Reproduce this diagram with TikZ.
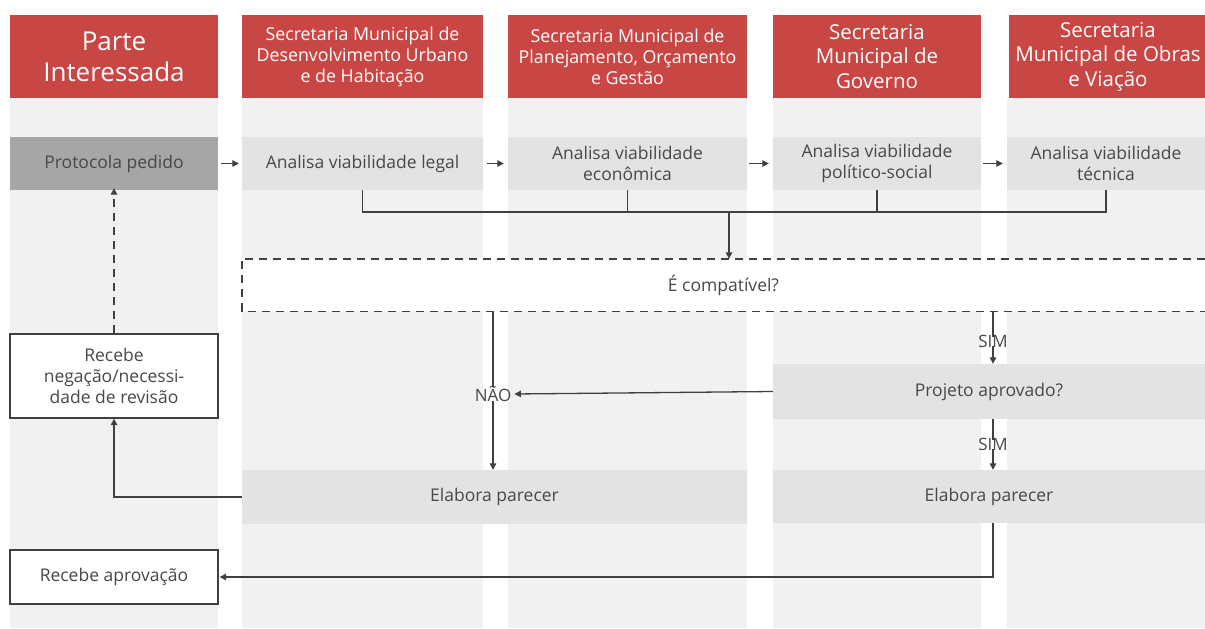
\documentclass[tikz,border=0pt]{standalone}
\usepackage{fontspec}
\setmainfont{Open Sans}
\usetikzlibrary{arrows.meta}
\definecolor{hdr}{RGB}{200,70,67}
\definecolor{lanebg}{RGB}{241,241,241}
\definecolor{boxg}{RGB}{227,227,227}
\definecolor{darkbox}{RGB}{166,166,166}
\definecolor{txt}{RGB}{72,72,72}
\definecolor{ln}{RGB}{64,64,64}
\begin{document}
\begin{tikzpicture}[x=1pt,y=-1pt,
  hdrbox/.style={fill=hdr, text=white, align=center, inner sep=0pt, font=\fontsize{17.8}{21}\selectfont},
  hdrbig/.style={hdrbox, font=\fontsize{20.5}{24.5}\selectfont},
  proc/.style={fill=boxg, text=txt, align=center, inner sep=0pt, font=\fontsize{17.5}{21}\selectfont},
  endbox/.style={fill=white, draw=ln, line width=1.3pt, text=txt, align=center, inner sep=0pt, font=\fontsize{17.5}{21}\selectfont},
  lbl/.style={text=txt, inner sep=1pt, font=\fontsize{17}{18}\selectfont},
  conn/.style={draw=ln, line width=1.3pt},
  arr/.style={conn, -{Triangle[length=6.5pt,width=6.5pt]}},
  dashline/.style={draw=ln, line width=1.4pt, dash pattern=on 8pt off 6pt}
]
\useasboundingbox (0,0) rectangle (1205,629);
\fill[white] (0,0) rectangle (1205,629);
% lane backgrounds
\fill[lanebg] (10,98) rectangle (218,628);
\fill[lanebg] (242,98) rectangle (483,628);
\fill[lanebg] (508,98) rectangle (747,628);
\fill[lanebg] (773,98) rectangle (981,628);
\fill[lanebg] (1007,98) rectangle (1205,628);
% headers
\node[hdrbox, font=\fontsize{26}{31}\selectfont, minimum width=208pt, minimum height=83pt] (H1) at (114,56.5) {Parte\\Interessada};
\node[hdrbox, minimum width=241pt, minimum height=83pt] (H2) at (362.5,56.5) {Secretaria Municipal de\\Desenvolvimento Urbano\\e de Habitação};
\node[hdrbox, minimum width=239pt, minimum height=83pt] (H3) at (627.5,56.5) {Secretaria Municipal de\\Planejamento, Orçamento\\e Gestão};
\node[hdrbig, minimum width=208pt, minimum height=83pt] (H4) at (877,56.5) {Secretaria\\Municipal de\\Governo};
\node[hdrbig, minimum width=198pt, minimum height=83pt] (H5) at (1108,56.5) {Secretaria\\Municipal de Obras\\e Viação};
% row 1
\node[proc, fill=darkbox, minimum width=208pt, minimum height=53pt] (P1) at (114,163.5) {Protocola pedido};
\node[proc, minimum width=241pt, minimum height=53pt] (A2) at (362.5,163.5) {Analisa viabilidade legal};
\node[proc, minimum width=239pt, minimum height=53pt] (A3) at (627.5,163.5) {Analisa viabilidade\\econômica};
\node[proc, minimum width=208pt, minimum height=53pt] (A4) at (877,163.5) {Analisa viabilidade\\político-social};
\node[proc, minimum width=198pt, minimum height=53pt] (A5) at (1106,163.5) {Analisa viabilidade\\técnica};
% decision
\node[fill=white, text=txt, inner sep=0pt, minimum width=963pt, minimum height=52pt, font=\fontsize{17.5}{20}\selectfont] (D) at (723.5,285) {É compatível?};
\draw[dashline] (D.north east) -- (D.north west) -- (D.south west) -- (D.south east);
% lower boxes
\node[proc, minimum width=432pt, minimum height=55pt] (PA) at (989,391.5) {Projeto aprovado?};
\node[proc, minimum width=505pt, minimum height=54pt] (EL) at (494.5,497) {Elabora parecer};
\node[proc, minimum width=432pt, minimum height=53pt] (ER) at (989,496.5) {Elabora parecer};
\node[endbox, minimum width=208pt, minimum height=84pt] (RN) at (114,376) {Recebe\\negação/necessi-\\dade de revisão};
\node[endbox, minimum width=208pt, minimum height=54pt] (RA) at (114,577) {Recebe aprovação};
% labels
\node[lbl] (NAO) at (493,394) {NÃO};
\node[lbl] (S1) at (993,341) {SIM};
\node[lbl] (S2) at (993,444) {SIM};
\coordinate (J) at (729,212);
% connectors row 1
\draw[arr] ([xshift=3pt]P1.east) -- ([xshift=-3pt]A2.west);
\draw[arr] ([xshift=4pt]A2.east) -- ([xshift=-4pt]A3.west);
\draw[arr] ([xshift=2pt]A3.east) -- ([xshift=-4pt]A4.west);
\draw[arr] ([xshift=2pt]A4.east) -- ([xshift=-4pt]A5.west);
% bracket
\draw[conn] (A2.south) |- (J) -| (A5.south);
\draw[conn] (A3.south) -- (A3.south |- J);
\draw[conn] (A4.south) -- (A4.south |- J);
\draw[arr] (J) -- (D.north -| J);
% no branch
\draw[conn] ([yshift=-1pt]D.south -| NAO) -- ([yshift=-2pt]NAO.north);
\draw[arr] ([yshift=2pt]NAO.south) -- (EL.north -| NAO);
\draw[arr] (PA.west) -- ([xshift=2pt]NAO.east);
% yes branch
\draw[conn] ([yshift=-1pt]D.south -| S1) -- ([yshift=-3pt]S1.north);
\draw[arr] ([yshift=2pt]S1.south) -- (PA.north -| S1);
\draw[conn] (PA.south -| S2) -- ([yshift=-3pt]S2.north);
\draw[arr] ([yshift=2pt]S2.south) -- (ER.north -| S2);
% returns
\draw[arr] (EL.west) -| (RN.south);
\draw[arr, dash pattern=on 8pt off 6pt] (RN.north) -- ([yshift=2pt]P1.south);
\draw[arr] (ER.south -| S2) |- ([xshift=1pt]RA.east);
\end{tikzpicture}
\end{document}
